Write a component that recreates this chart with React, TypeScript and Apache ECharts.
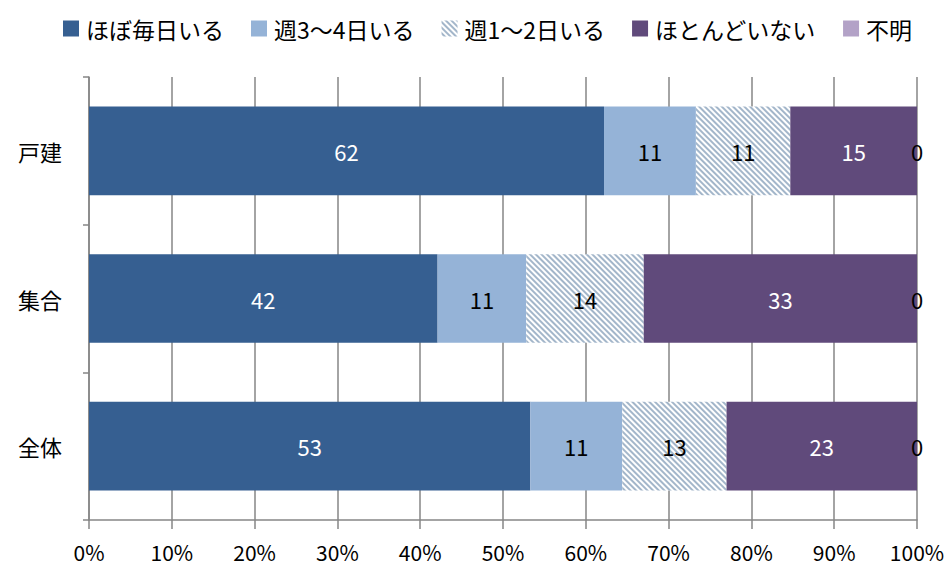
import React, { useEffect, useRef } from "react";
import * as echarts from "echarts";

const categories = ["戸建", "集合", "全体"];
const seriesNames = ["ほぼ毎日いる", "週3～4日いる", "週1～2日いる", "ほとんどいない", "不明"];
const daily = [62.2, 42.1, 53.3];
const days34 = [11.1, 10.7, 11.1];
const days12 = [11.4, 14.2, 12.6];
const rarely = [15.3, 33.0, 23.0];
const unknown = [0, 0, 0];
const xTicks = [0, 10, 20, 30, 40, 50, 60, 70, 80, 90, 100];

const FONT = "'Noto Sans CJK JP', 'Noto Sans', sans-serif";

export default function App() {
  const ref = useRef<HTMLDivElement>(null);
  useEffect(() => {
    if (!ref.current) return;
    const chart = echarts.init(ref.current, undefined, { renderer: "svg" });
    const values = [daily, days34, days12, rarely, unknown];
    const colors = ["#365F91", "#95B3D7", "#FFFFFF", "#604A7B", "#B3A2C7"];
    const labelColors = ["#FFFFFF", "#000000", "#000000", "#FFFFFF", "#000000"];
    const series = seriesNames.map((name, i) => ({
      name,
      type: "bar",
      stack: "total",
      barCategoryGap: "40%",
      data: values[i],
      itemStyle:
        i === 2
          ? {
              color: "#FFFFFF",
              decal: {
                symbol: "rect",
                color: "#A3B6CA",
                backgroundColor: "#FFFFFF",
                dashArrayX: [1, 0],
                dashArrayY: [2, 1.5],
                rotation: Math.PI / 4,
              },
            }
          : { color: colors[i] },
      label: {
        show: true,
        position: "inside",
        color: labelColors[i],
        fontSize: 22,
        fontFamily: FONT,
        formatter: (p: any) => String(Math.round(p.value)),
      },
    }));
    chart.setOption({
      animation: false,
      textStyle: { fontFamily: FONT },
      legend: {
        top: 12,
        left: 58,
        itemWidth: 16,
        itemHeight: 16,
        itemGap: 27,
        icon: "rect",
        textStyle: { fontSize: 23, color: "#000", fontFamily: FONT, padding: [0, 0, 0, 2] },
        data: seriesNames,
      },
      grid: { left: 89, right: 32, top: 77, bottom: 46 },
      xAxis: {
        type: "value",
        min: xTicks[0],
        max: xTicks[xTicks.length - 1],
        interval: 10,
        axisLine: { show: true, lineStyle: { color: "#868686", width: 1.5 } },
        axisTick: { show: true, length: 9, lineStyle: { color: "#868686", width: 1.5 } },
        splitLine: { show: true, lineStyle: { color: "#868686", width: 1.5 } },
        axisLabel: {
          formatter: "{value}%",
          fontSize: 21,
          color: "#000",
          margin: 21,
          fontFamily: FONT,
        },
      },
      yAxis: {
        type: "category",
        inverse: true,
        data: categories,
        axisLine: { show: true, lineStyle: { color: "#868686", width: 1.5 } },
        axisTick: { show: true, length: 6, lineStyle: { color: "#868686", width: 1.5 } },
        axisLabel: { fontSize: 22, color: "#000", margin: 27, fontFamily: FONT },
      },
      series,
    });
    return () => chart.dispose();
  }, []);
  return <div ref={ref} style={{ width: 949, height: 566, position: "absolute", left: 0, top: 0 }} />;
}
